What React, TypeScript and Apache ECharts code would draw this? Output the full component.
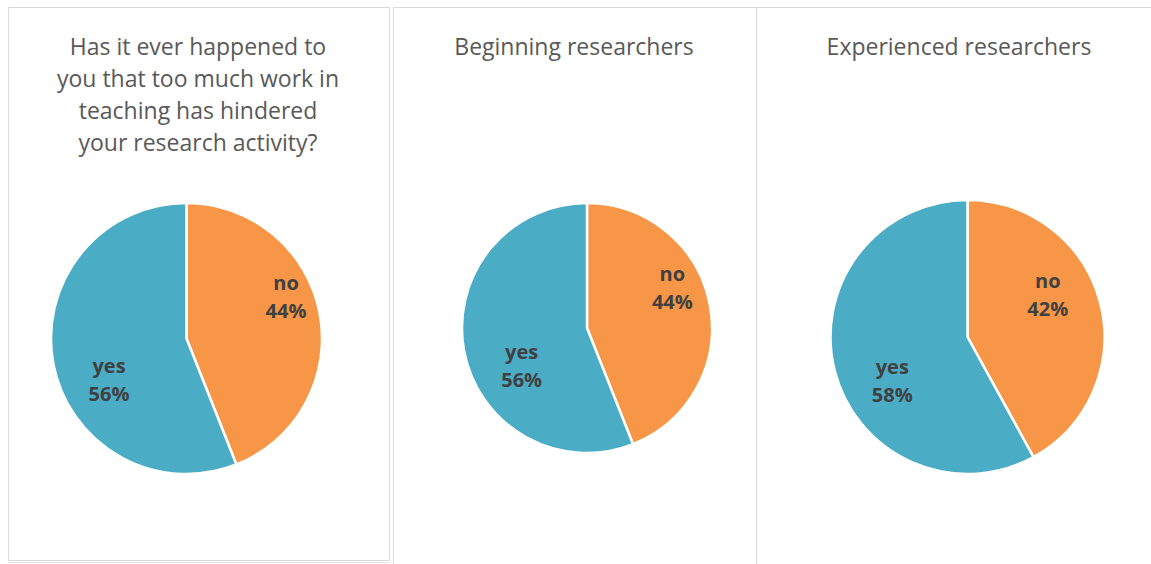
import React, { useEffect, useRef } from "react";
import * as echarts from "echarts";

const categories = ["no", "yes"];
const panelTitles = [
  "Has it ever happened to\nyou that too much work in\nteaching has hindered\nyour research activity?",
  "Beginning researchers",
  "Experienced researchers",
];
const allValues = [44, 56];
const beginningValues = [44, 56];
const experiencedValues = [42, 58];
const colors = ["#F79646", "#4BACC6"];

const pies = [
  { values: allValues, center: [186.5, 338.5], r: 135.5, nudge: [[30, -29], [-8, 28]] },
  { values: beginningValues, center: [587, 328], r: 125, nudge: [[21, -28], [-1, 25]] },
  { values: experiencedValues, center: [967.5, 337], r: 137, nudge: [[11, -25], [-6, 26]] },
];
const titlePos = [
  { left: 198, top: 30 },
  { left: 574, top: 30 },
  { left: 959, top: 30 },
];

const FONT = "'Open Sans', Lato, sans-serif";

export default function App() {
  const ref = useRef<HTMLDivElement>(null);
  useEffect(() => {
    if (!ref.current) return;
    const chart = echarts.init(ref.current, undefined, { renderer: "svg" });
    const option: any = {
      animation: false,
      backgroundColor: "#ffffff",
      title: panelTitles.map((t, i) => ({
        text: t,
        left: titlePos[i].left,
        top: titlePos[i].top,
        textAlign: "center",
        padding: 0,
        textStyle: {
          fontFamily: FONT,
          fontWeight: "normal",
          fontSize: 23,
          lineHeight: 32,
          color: "#595959",
        },
      })),
      graphic: [
        { type: "rect", shape: { x: 8.5, y: 7.5, width: 381, height: 553 }, style: { fill: "none", stroke: "#d9d9d9", lineWidth: 1 }, z: -1 },
        { type: "line", shape: { x1: 8.5, y1: 562.5, x2: 389.5, y2: 562.5 }, style: { stroke: "#e3e3e3", lineWidth: 1 }, z: -1 },
        { type: "polyline", shape: { points: [[393.5, 570], [393.5, 7.5], [756.5, 7.5], [756.5, 570]] }, style: { fill: "none", stroke: "#d9d9d9", lineWidth: 1 }, z: -1 },
        { type: "polyline", shape: { points: [[756.5, 7.5], [1160, 7.5]] }, style: { fill: "none", stroke: "#d9d9d9", lineWidth: 1 }, z: -1 },
      ],
      series: pies.map((p) => ({
        type: "pie",
        center: p.center,
        radius: [0, p.r],
        startAngle: 90,
        clockwise: true,
        silent: true,
        data: categories.map((c, j) => ({
          name: c,
          value: p.values[j],
          itemStyle: { color: colors[j] },
        })),
        itemStyle: { borderColor: "#ffffff", borderWidth: 2.5 },
        label: {
          show: true,
          position: "inside",
          formatter: (prm: any) => `${prm.name}\n${prm.value}%`,
          fontFamily: FONT,
          fontWeight: "bold",
          fontSize: 20,
          lineHeight: 28,
          color: "#404040",
        },
        labelLine: { show: false },
        labelLayout: (prm: any) => ({ dx: p.nudge[prm.dataIndex][0], dy: p.nudge[prm.dataIndex][1] }),
        emphasis: { disabled: true },
      })),
    };
    chart.setOption(option);
    return () => chart.dispose();
  }, []);
  return (
    <div
      ref={ref}
      style={{ position: "fixed", left: 0, top: 0, width: 1151, height: 564 }}
    />
  );
}
